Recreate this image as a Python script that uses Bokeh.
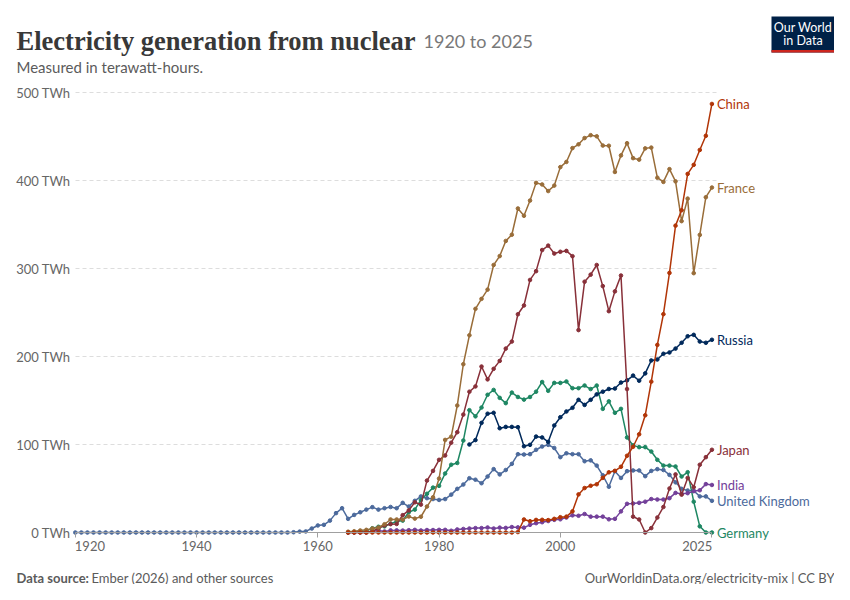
from bokeh.plotting import figure
from bokeh.models import Range1d, FixedTicker, Label, BoxAnnotation
from bokeh.embed import file_html
from bokeh.resources import INLINE

# ---------------- data (TWh) ----------------
uk_start = 1920
uk_values = [0, 0, 0, 0, 0, 0, 0, 0, 0, 0, 0, 0, 0, 0, 0, 0, 0, 0, 0, 0,
             0, 0, 0, 0, 0, 0, 0, 0, 0, 0, 0, 0, 0, 0, 0, 0,
             0.3, 1.0, 1.2, 4.5, 8.0, 8.7, 13.5, 22.0, 27.6, 15.5,
             20.0, 23.0, 26.0, 28.8, 26.0, 27.6, 29.0, 27.6, 33.7, 29.5,
             36.0, 41.0, 39.0, 38.0, 37.0, 38.0, 43.0, 49.6, 54.5, 61.7,
             60.0, 56.0, 63.6, 72.0, 66.0, 71.0, 78.0, 89.0, 88.6, 89.0,
             94.0, 97.7, 99.6, 96.0, 85.6, 90.0, 89.0, 89.0, 81.0, 82.0,
             76.0, 65.0, 52.0, 69.7, 62.0, 69.7, 70.5, 70.5, 64.0, 70.0,
             72.0, 71.0, 65.5, 57.0, 49.6, 47.7, 47.5, 41.0, 41.0, 36.0]

germany_start = 1965
germany_values = [0.2, 0.4, 1.3, 1.8, 4.8, 6.5, 7.0, 10.0, 12.5, 13.5,
                  23.0, 26.0, 37.0, 44.0, 51.0, 53.0, 67.0, 77.0, 79.0, 104.5,
                  139.0, 132.0, 142.0, 156.5, 162.0, 153.0, 147.0, 159.0, 154.0, 151.0,
                  154.0, 160.0, 171.0, 161.0, 170.0, 170.0, 171.6, 164.0, 164.0, 167.0,
                  163.0, 167.0, 140.5, 149.0, 136.0, 140.5, 108.0, 99.0, 97.0, 97.0,
                  92.0, 82.6, 76.0, 76.0, 75.0, 63.6, 68.5, 35.0, 7.0, 0.0, 0.0]

india_start = 1965
india_values = [0, 0, 0, 0, 1.0, 2.4, 1.2, 2.4, 2.4, 2.2,
                2.6, 3.0, 2.3, 2.8, 2.8, 3.0, 3.0, 2.0, 3.5, 4.0,
                4.5, 5.0, 5.0, 5.7, 4.5, 5.5, 5.2, 6.2, 5.8, 5.5,
                8.7, 10.6, 11.7, 13.0, 14.4, 15.0, 17.0, 19.5, 19.0, 21.0,
                18.0, 18.0, 18.0, 15.0, 15.5, 24.0, 32.6, 33.0, 33.7, 35.0,
                38.0, 37.5, 37.5, 39.0, 45.0, 44.0, 44.7, 47.0, 48.0, 55.0, 54.0]

russia_start = 1985
russia_values = [100.0, 105.0, 124.6, 135.0, 136.0, 118.5, 120.0, 120.0, 119.7, 98.0,
                 99.6, 109.0, 108.0, 103.0, 121.6, 131.0, 137.5, 141.7, 150.8, 145.0,
                 150.8, 157.0, 160.0, 163.1, 163.6, 170.4, 172.9, 178.3, 172.5, 180.8,
                 195.5, 196.6, 203.1, 204.6, 209.0, 215.6, 223.0, 224.6, 217.0, 215.6, 219.0]

japan_start = 1965
japan_values = [0.0, 0.2, 0.4, 0.3, 1.4, 4.6, 8.0, 9.5, 9.7, 19.7,
                25.1, 34.3, 31.7, 59.0, 70.0, 82.6, 87.5, 102.0, 114.0, 134.0,
                160.0, 166.0, 188.6, 174.0, 186.0, 195.0, 209.0, 217.0, 248.0, 258.0,
                287.0, 297.0, 321.0, 326.0, 317.0, 319.0, 320.0, 314.0, 230.0, 285.0,
                293.0, 304.0, 280.0, 251.5, 274.0, 292.0, 163.0, 18.0, 14.8, 0.0,
                5.0, 17.0, 29.0, 50.0, 66.0, 43.0, 62.0, 51.5, 77.0, 85.6, 94.0]

france_start = 1965
france_values = [0.9, 1.4, 2.3, 3.0, 4.5, 5.7, 9.4, 14.8, 14.8, 14.7,
                 18.2, 15.8, 17.9, 29.5, 40.0, 61.3, 105.2, 108.9, 144.3, 191.2,
                 224.1, 254.2, 265.5, 276.0, 304.0, 314.1, 331.3, 338.4, 368.2, 359.9,
                 377.2, 397.3, 395.5, 388.0, 394.2, 415.2, 421.1, 436.8, 441.1, 448.2,
                 451.5, 450.2, 439.7, 439.5, 409.7, 428.5, 442.4, 425.4, 423.7, 436.5,
                 437.4, 403.2, 398.4, 412.9, 399.0, 353.8, 379.4, 294.7, 338.2, 381.0, 392.0]

china_start = 1965
china_values = [0, 0, 0, 0, 0, 0, 0, 0, 0, 0,
                0, 0, 0, 0, 0, 0, 0, 0, 0, 0,
                0, 0, 0, 0, 0, 0, 0, 0, 0.5, 14.8,
                12.8, 14.3, 14.4, 14.1, 15.5, 17.4, 18.0, 24.0, 43.3, 50.5,
                53.1, 54.8, 62.1, 68.4, 70.1, 74.7, 87.2, 97.4, 111.6, 133.2,
                171.4, 213.2, 248.1, 295.0, 348.7, 366.2, 407.5, 417.8, 434.7, 450.8, 487.0]

series_names = ["United Kingdom", "Germany", "India", "Russia", "Japan", "France", "China"]
series_starts = [uk_start, germany_start, india_start, russia_start, japan_start, france_start, china_start]
series_values = [uk_values, germany_values, india_values, russia_values, japan_values, france_values, china_values]
series_colors = ["#4C6A9C", "#1E8763", "#73409A", "#00295B", "#883039", "#996D39", "#B13507"]

x_ticks = [1920, 1940, 1960, 1980, 2000, 2025]
y_ticks = [0, 100, 200, 300, 400, 500]
y_tick_labels = ["0 TWh", "100 TWh", "200 TWh", "300 TWh", "400 TWh", "500 TWh"]

# ---------------- pixel <-> data mapping (frame = whole canvas) ----------------
W, H = 834, 584
X_FIRST, X_FIRST_PX = x_ticks[0], 74.8
PXX = 6.063               # px per year
Y_ZERO_PX, PXY = 532.0, 0.88  # px of 0 TWh, px per TWh
FONT = "Lato"


def dx(px):
    return X_FIRST + (px - X_FIRST_PX) / PXX


def dy(py):
    return (Y_ZERO_PX - py) / PXY


p = figure(width=W, height=H,
           x_range=Range1d(dx(0), dx(W)), y_range=Range1d(dy(H), dy(0)),
           output_backend="svg", toolbar_location=None,
           min_border=0, min_border_left=0, min_border_right=0,
           min_border_top=0, min_border_bottom=0,
           background_fill_color="white", border_fill_color="white",
           outline_line_color=None)

# x axis (drawn at 0 TWh)
xa = p.xaxis[0]
xa.ticker = FixedTicker(ticks=x_ticks)
xa.fixed_location = 0
xa.bounds = (x_ticks[0], x_ticks[-1])
xa.major_label_overrides = {x_ticks[0]: "", x_ticks[-1]: ""}
xa.axis_line_color = "#a0a0a0"
xa.major_tick_line_color = "#a0a0a0"
xa.major_tick_out = 5
xa.major_tick_in = 0
xa.minor_tick_line_color = None
xa.major_label_text_font = FONT
xa.major_label_text_font_size = "13px"
xa.major_label_text_color = "#666666"
xa.major_label_standoff = 3

# y axis (labels to the left of the plotting area)
ya = p.yaxis[0]
ya.ticker = FixedTicker(ticks=y_ticks)
ya.fixed_location = dx(72)
ya.major_label_overrides = dict(zip(y_ticks, y_tick_labels))
ya.axis_line_color = None
ya.major_tick_line_color = None
ya.minor_tick_line_color = None
ya.major_tick_out = 0
ya.major_label_standoff = 2
ya.major_label_text_font = FONT
ya.major_label_text_font_size = "13px"
ya.major_label_text_color = "#666666"

p.xgrid.visible = False
p.ygrid.visible = False
# horizontal grid lines over the plotting area only
p.segment(x0=dx(75), x1=dx(716), y0=y_ticks[1:], y1=y_ticks[1:],
          line_color="#dddddd", line_width=1, line_dash="4 3")

# series
for name, start, vals, col in zip(series_names, series_starts, series_values, series_colors):
    yrs = list(range(start, start + len(vals)))
    p.line(yrs, vals, line_color=col, line_width=1.5)
    p.scatter(yrs, vals, marker="circle", size=3.6, fill_color=col, line_color=col)
    p.add_layout(Label(x=yrs[-1], y=vals[-1], text=name, x_offset=5,
                       text_baseline="middle", text_align="left",
                       text_font=FONT, text_font_size="13px", text_color=col))

# end tick labels (first left-aligned, last right-aligned)
p.add_layout(Label(x=x_ticks[0], y=0, text=str(x_ticks[0]), y_offset=-8, x_offset=-0.5,
                   text_baseline="top", text_align="left",
                   text_font=FONT, text_font_size="13px", text_color="#666666"))
p.add_layout(Label(x=x_ticks[-1], y=0, text=str(x_ticks[-1]), y_offset=-8, x_offset=0.5,
                   text_baseline="top", text_align="right",
                   text_font=FONT, text_font_size="13px", text_color="#666666"))


def at(text, px, py, size, color, font=FONT, style="normal", align="left", baseline="alphabetic"):
    p.add_layout(Label(x=dx(px), y=dy(py), text=text,
                       text_font=font, text_font_size=size, text_font_style=style,
                       text_color=color, text_align=align, text_baseline=baseline))


at("Electricity generation from nuclear", 16, 40, "26.5px", "#383838", font="Liberation Serif", style="bold")
at("1920 to 2025", 423, 40, "18px", "#787878")
at("Measured in terawatt-hours.", 16, 66, "15px", "#5b5b5b")
at("Data source:", 16, 577, "13px", "#5b5b5b", style="bold", baseline="middle")
at("Ember (2026) and other sources", 91, 577, "13px", "#5b5b5b", baseline="middle")
at("OurWorldinData.org/electricity-mix | CC BY", 834, 577, "13px", "#5b5b5b",
   align="right", baseline="middle")

# logo
p.add_layout(BoxAnnotation(left=dx(771), right=dx(834), top=dy(16), bottom=dy(52),
                           fill_color="#002147", fill_alpha=1, line_color=None))
p.add_layout(BoxAnnotation(left=dx(771), right=dx(834), top=dy(49.5), bottom=dy(52),
                           fill_color="#ce261e", fill_alpha=1, line_color=None))
at("Our World", 802.5, 27, "12.5px", "#ffffff", align="center", baseline="middle")
at("in Data", 802.5, 40, "12.5px", "#ffffff", align="center", baseline="middle")

open("out.html", "w").write(file_html(p, INLINE))
